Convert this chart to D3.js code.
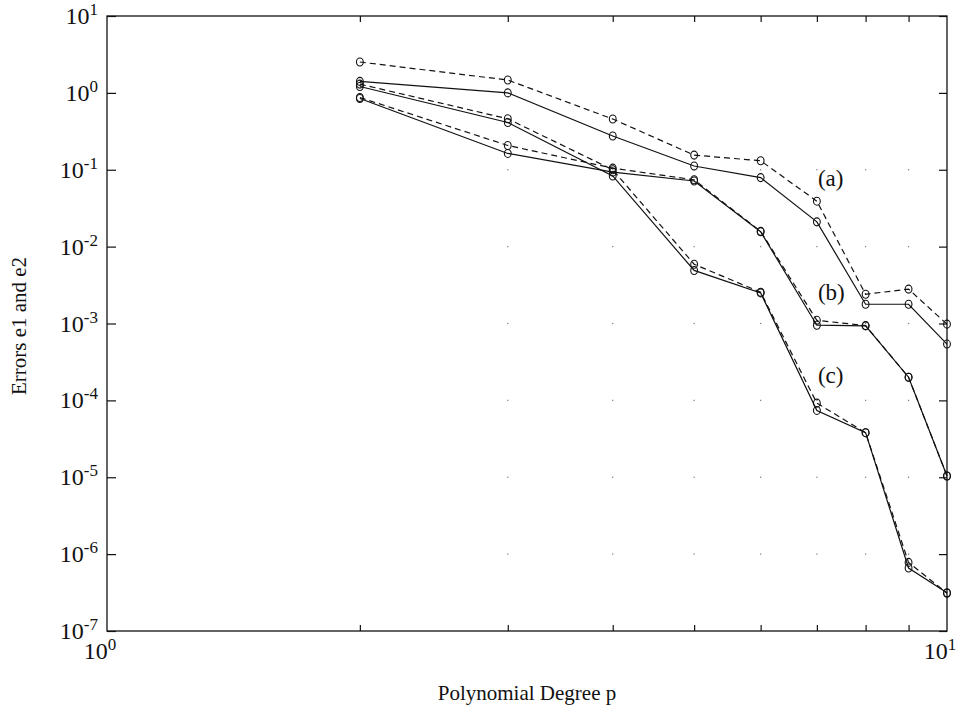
<!DOCTYPE html>
<html>
<head>
<meta charset="utf-8">
<script src="https://cdn.jsdelivr.net/npm/d3@7"></script>
<style>
  html, body { margin: 0; padding: 0; background: #fff; }
  svg { display: block; }
</style>
</head>
<body>
<svg id="chart" width="960" height="719"></svg>
<script>
// ---- data ----
const degrees = [2, 3, 4, 5, 6, 7, 8, 9, 10];
const aSolid  = [1.41, 1.0, 0.275, 0.112, 0.079, 0.021, 1.78e-3, 1.78e-3, 5.4e-4];
const aDashed = [2.52, 1.47, 0.457, 0.155, 0.131, 0.039, 2.4e-3, 2.8e-3, 9.8e-4];
const bSolid  = [0.845, 0.163, 0.093, 0.0714, 0.0156, 9.5e-4, 9.3e-4, 2.0e-4, 1.04e-5];
const bDashed = [0.87, 0.207, 0.105, 0.074, 0.0158, 1.1e-3, 9.4e-4, 2.0e-4, 1.04e-5];
const cSolid  = [1.21, 0.412, 0.083, 4.9e-3, 2.5e-3, 7.4e-5, 3.8e-5, 6.6e-7, 3.15e-7];
const cDashed = [1.30, 0.46, 0.10, 5.9e-3, 2.55e-3, 9.2e-5, 3.8e-5, 7.8e-7, 3.1e-7];
const seriesLabels = ["(a)", "(b)", "(c)"];
const labelAnchors = [{ p: 7, v: 0.062 }, { p: 7, v: 2.0e-3 }, { p: 7, v: 1.7e-4 }];
const yTickExps = [1, 0, -1, -2, -3, -4, -5, -6, -7];
const xTickExps = [0, 1];
const xMinor = [2, 3, 4, 5, 6, 7, 8, 9];
const xTitle = "Polynomial Degree p";
const yTitle = "Errors e1 and e2";

// ---- layout ----
const FONT = "'Liberation Serif', 'Times New Roman', Times, 'DejaVu Serif', serif";
const svg = d3.select("#chart").attr("font-family", FONT);
const L = 107, R = 947, T = 16, B = 631;
const x = d3.scaleLog().domain([1, 10]).range([L, R]);
const y = d3.scaleLog().domain([1e-7, 10]).range([B, T]);

// faint grid dots at intersections
const dotsG = svg.append("g");
xMinor.slice(1).forEach(p => {
  yTickExps.slice(2, 8).forEach(e => {
    dotsG.append("rect")
      .attr("x", x(p) - 0.6).attr("y", y(Math.pow(10, e)) - 0.6)
      .attr("width", 1.2).attr("height", 1.2)
      .attr("fill", "#777");
  });
});

// box
svg.append("rect").attr("x", L).attr("y", T).attr("width", R - L).attr("height", B - T)
  .attr("fill", "none").attr("stroke", "#111").attr("stroke-width", 1.3);

// axes with inward ticks
const yVals = yTickExps.map(e => Math.pow(10, e));
const axL = d3.axisLeft(y).tickValues(yVals).tickSize(-9).tickFormat("");
const axR = d3.axisRight(y).tickValues(yVals).tickSize(-8).tickFormat("");
const axB = d3.axisBottom(x).tickValues(xMinor).tickSize(-6).tickFormat("");
const axT = d3.axisTop(x).tickValues(xMinor).tickSize(-6).tickFormat("");
[[axL, `translate(${L},0)`], [axR, `translate(${R},0)`], [axB, `translate(0,${B})`], [axT, `translate(0,${T})`]]
  .forEach(([ax, tr]) => {
    const g = svg.append("g").attr("transform", tr).call(ax);
    g.select(".domain").remove();
    g.selectAll("line").attr("stroke", "#111").attr("stroke-width", 1.2);
  });

// power-of-ten labels
function powLabel(g, px, py, exp, anchor) {
  const t = g.append("text").attr("x", px).attr("y", py).attr("text-anchor", anchor)
    .attr("font-family", FONT).attr("font-size", 24).attr("fill", "#111");
  t.append("tspan").text("10");
  t.append("tspan").attr("font-size", 17).attr("dy", -9).text(String(exp));
  return t;
}
const lab = svg.append("g");
yTickExps.forEach(e => {
  powLabel(lab, 98, y(Math.pow(10, e)) + 8, e, "end");
});
xTickExps.forEach(e => {
  powLabel(lab, x(Math.pow(10, e)) - 7, 659, e, "middle");
});

// axis titles
svg.append("text").attr("x", 527).attr("y", 700).attr("text-anchor", "middle")
  .attr("font-family", FONT).attr("font-size", 21).attr("fill", "#111").text(xTitle);
svg.append("text").attr("transform", `translate(26,326) rotate(-90)`)
  .attr("text-anchor", "middle").attr("font-family", FONT).attr("font-size", 21)
  .attr("fill", "#111").text(yTitle);

// series
const series = [
  { v: aDashed, dash: "6,4" }, { v: aSolid, dash: null },
  { v: bDashed, dash: "6,4" }, { v: bSolid, dash: null },
  { v: cDashed, dash: "6,4" }, { v: cSolid, dash: null }
];
const line = d3.line().x(d => x(d[0])).y(d => y(d[1]));
const sg = svg.append("g");
series.forEach(s => {
  const pts = degrees.map((p, i) => [p, s.v[i]]);
  sg.append("path").attr("d", line(pts)).attr("fill", "none")
    .attr("stroke", "#111").attr("stroke-width", 1.2)
    .attr("stroke-dasharray", s.dash);
  sg.selectAll(null).data(pts).enter().append("ellipse")
    .attr("cx", d => x(d[0])).attr("cy", d => y(d[1]))
    .attr("rx", 3.4).attr("ry", 4).attr("fill", "none")
    .attr("stroke", "#111").attr("stroke-width", 1.1);
});

// series labels
seriesLabels.forEach((s, i) => {
  svg.append("text").attr("x", x(labelAnchors[i].p) + 1).attr("y", y(labelAnchors[i].v))
    .attr("font-family", FONT).attr("font-size", 23).attr("fill", "#111").text(s);
});
</script>
</body>
</html>
